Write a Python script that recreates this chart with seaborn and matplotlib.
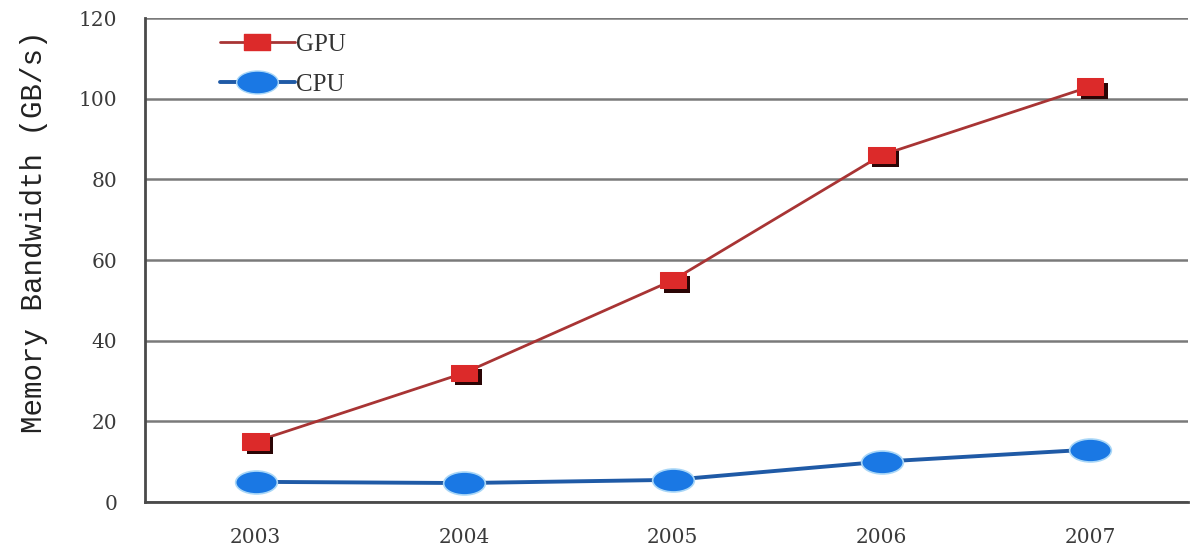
import numpy as np
import pandas as pd
import matplotlib
matplotlib.use("Agg")
import matplotlib.pyplot as plt
import matplotlib.patheffects as pe
from matplotlib.path import Path
from matplotlib.transforms import Affine2D
from matplotlib.lines import Line2D
import seaborn as sns

years = ["2003", "2004", "2005", "2006", "2007"]
gpu_bw = [15, 32, 55, 86, 103]
cpu_bw = [5, 4.7, 5.5, 10, 13]
y_ticks = [0, 20, 40, 60, 80, 100, 120]

df = pd.DataFrame({
    "year": years * 2,
    "bw": gpu_bw + cpu_bw,
    "kind": ["GPU"] * len(years) + ["CPU"] * len(years),
})

sns.set_style("white")
plt.rcParams["font.family"] = ["DejaVu Serif", "Liberation Serif"]

# flattened markers (the original picture is stretched sideways)
ellipse = Path.unit_circle().transformed(Affine2D().scale(1.0, 0.55))
rect = Path.unit_rectangle().transformed(Affine2D().translate(-0.5, -0.5).scale(1.0, 0.62))

GPU_FACE, GPU_LINE = "#dc2a2a", "#a83434"
CPU_FACE, CPU_LINE = "#1a78e4", "#1f5aa6"

fig = plt.figure(figsize=(11.91, 5.56), dpi=100)
ax = fig.add_axes([0.1217, 0.0971, 0.876, 0.8705])

gpu = df[df["kind"] == "GPU"]
cpu = df[df["kind"] == "CPU"]

sns.lineplot(data=gpu, x="year", y="bw", color=GPU_LINE, lw=2, ax=ax, sort=False, zorder=3)
sns.lineplot(data=gpu, x="year", y="bw", color=GPU_LINE, ls="", ax=ax, sort=False, zorder=4,
             marker=rect, markersize=19, markerfacecolor=GPU_FACE, markeredgecolor=GPU_FACE,
             path_effects=[pe.SimplePatchShadow(offset=(3, -3), shadow_rgbFace="#2a0505", alpha=1.0),
                           pe.Normal()])
sns.lineplot(data=cpu, x="year", y="bw", color=CPU_LINE, lw=2.8, ax=ax, sort=False, zorder=3,
             marker=ellipse, markersize=30, markerfacecolor=CPU_FACE,
             markeredgecolor="#a8d6f7", markeredgewidth=1.2)

ax.set_xlim(-0.53, 4.47)
ax.set_ylim(0, 120)
ax.set_yticks(y_ticks)
ax.set_xticks(range(len(years)))
ax.set_xticklabels(years)
ax.set_xticks([i + 0.5 for i in range(len(years) - 1)], minor=True)
ax.tick_params(axis="x", which="major", length=0, pad=19, labelsize=14.5)
ax.tick_params(axis="x", which="minor", length=7, width=1.3, color="#555555", direction="out")
ax.tick_params(axis="y", length=9, width=1.3, color="#555555", direction="out",
               labelsize=14.5, pad=11)
for t in ax.get_xticklabels() + ax.get_yticklabels():
    t.set_color("#3a3a3a")

ax.grid(True, axis="y", color="#7a7a7a", lw=1.8)
ax.set_axisbelow(True)
for s in ("top", "right"):
    ax.spines[s].set_visible(False)
for s in ("left", "bottom"):
    ax.spines[s].set_color("#4a4a4a")
    ax.spines[s].set_linewidth(2)

ax.set_xlabel("")
ax.set_ylabel("Memory Bandwidth (GB/s)", family=["Liberation Mono", "DejaVu Sans Mono"],
              fontsize=21, color="#222222")
ax.yaxis.set_label_coords(-0.093, 0.558)

handles = [
    Line2D([], [], color=GPU_LINE, lw=2, marker=rect, markersize=19,
           markerfacecolor=GPU_FACE, markeredgecolor=GPU_FACE),
    Line2D([], [], color=CPU_LINE, lw=2.8, marker=ellipse, markersize=30,
           markerfacecolor=CPU_FACE, markeredgecolor="#a8d6f7"),
]
leg = ax.legend(handles, ["GPU", "CPU"], loc="upper left", bbox_to_anchor=(0.05, 1.014),
                frameon=False, handlelength=3.0, handletextpad=0.05, labelspacing=0.68,
                prop={"family": ["Liberation Serif", "DejaVu Serif"], "size": 18})
for t in leg.get_texts():
    t.set_color("#333333")

fig.savefig("out.png", dpi=100)
